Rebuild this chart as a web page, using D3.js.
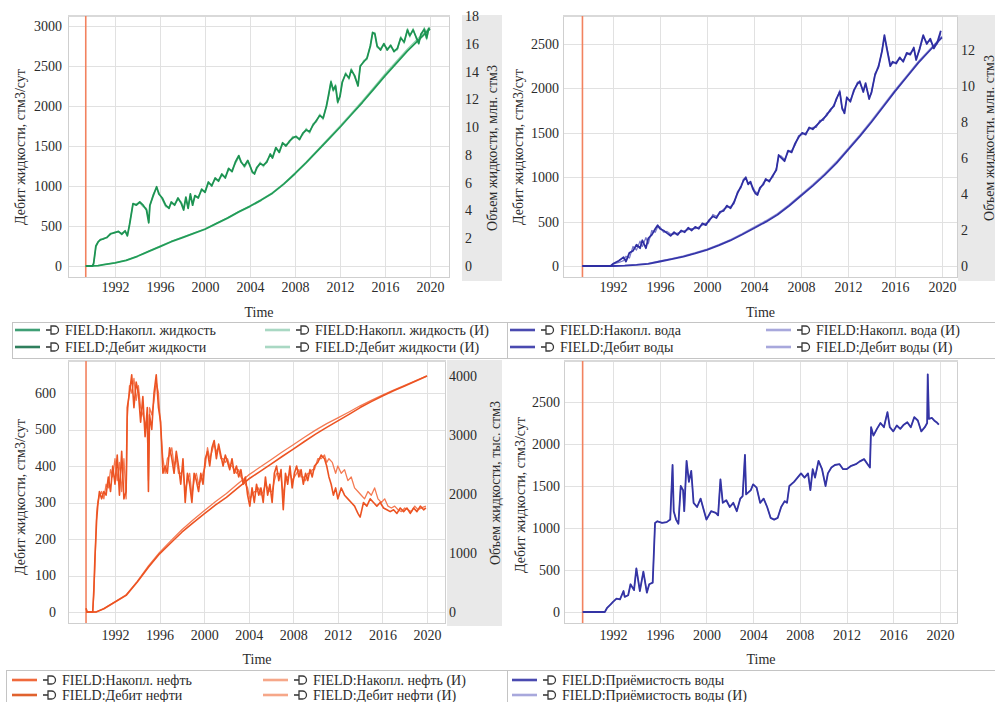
<!DOCTYPE html>
<html>
<head>
<meta charset="utf-8">
<script src="https://cdn.jsdelivr.net/npm/d3@7"></script>
<style>
  body { margin: 0; background: #fff; }
  svg { display: block; }
</style>
</head>
<body>
<svg id="fig" width="995" height="702"></svg>
<script>
// ---------------- Data: [year, value] ----------------
const yearTicks = [1992, 1996, 2000, 2004, 2008, 2012, 2016, 2020];
const startYear = 1989.4;

// Liquid rate, стм3/сут
const liquidRate = [
  [1989.4,0],[1990.0,0],[1990.1,30],[1990.3,250],[1990.5,300],[1990.7,330],[1991.0,340],[1991.3,360],[1991.6,400],
  [1992.0,420],[1992.3,430],[1992.6,400],[1992.9,440],[1993.1,380],[1993.3,520],[1993.6,780],[1993.9,760],
  [1994.2,800],[1994.5,760],[1994.8,700],[1995.0,540],[1995.1,760],[1995.4,880],[1995.7,990],[1995.9,900],
  [1996.2,850],[1996.5,760],[1996.8,720],[1997.0,800],[1997.3,760],[1997.6,850],[1997.9,780],[1998.1,700],
  [1998.3,860],[1998.5,720],[1998.7,900],[1998.9,760],[1999.1,880],[1999.4,850],[1999.7,960],[2000.0,920],
  [2000.3,1050],[2000.6,1000],[2000.9,1100],[2001.2,1060],[2001.5,1150],[2001.8,1100],[2002.1,1220],[2002.4,1180],
  [2002.7,1300],[2003.0,1380],[2003.2,1300],[2003.5,1250],[2003.8,1320],[2004.0,1250],[2004.2,1180],[2004.4,1150],
  [2004.6,1230],[2004.9,1280],[2005.2,1260],[2005.5,1300],[2005.8,1400],[2006.0,1350],[2006.3,1480],[2006.6,1420],
  [2006.9,1540],[2007.2,1500],[2007.5,1560],[2007.8,1600],[2008.1,1620],[2008.4,1580],[2008.7,1660],[2009.0,1700],
  [2009.3,1680],[2009.6,1760],[2009.9,1820],[2010.2,1880],[2010.5,1850],[2010.8,2000],[2011.0,2150],[2011.2,2300],
  [2011.4,2200],[2011.6,2250],[2011.8,2050],[2012.0,2120],[2012.2,2300],[2012.5,2400],[2012.8,2350],[2013.0,2450],
  [2013.3,2380],[2013.6,2250],[2013.8,2500],[2014.1,2550],[2014.4,2600],[2014.7,2750],[2014.9,2920],[2015.1,2900],
  [2015.3,2750],[2015.6,2700],[2015.9,2780],[2016.2,2700],[2016.5,2760],[2016.8,2680],[2017.1,2720],[2017.4,2850],
  [2017.7,2800],[2018.0,2950],[2018.2,2880],[2018.5,2950],[2018.8,2850],[2019.0,2780],[2019.2,2900],[2019.5,2960],
  [2019.7,2850],[2019.9,2980]
];
const liquidRateHist = [
  [1989.4,0],[1990.0,0],[1990.1,40],[1990.3,230],[1990.5,310],[1990.7,320],[1991.0,350],[1991.3,350],[1991.6,410],
  [1992.0,410],[1992.3,440],[1992.6,390],[1992.9,430],[1993.1,370],[1993.3,540],[1993.6,770],[1993.9,780],
  [1994.2,790],[1994.5,740],[1994.8,720],[1995.0,560],[1995.1,740],[1995.4,900],[1995.7,970],[1995.9,920],
  [1996.2,830],[1996.5,740],[1996.8,740],[1997.0,780],[1997.3,780],[1997.6,830],[1997.9,800],[1998.1,720],
  [1998.3,840],[1998.5,740],[1998.7,880],[1998.9,780],[1999.1,860],[1999.4,870],[1999.7,940],[2000.0,940],
  [2000.3,1030],[2000.6,1020],[2000.9,1080],[2001.2,1080],[2001.5,1130],[2001.8,1120],[2002.1,1200],[2002.4,1200],
  [2002.7,1280],[2003.0,1360],[2003.2,1320],[2003.5,1230],[2003.8,1300],[2004.0,1270],[2004.2,1160],[2004.4,1170],
  [2004.6,1210],[2004.9,1300],[2005.2,1240],[2005.5,1320],[2005.8,1380],[2006.0,1370],[2006.3,1460],[2006.6,1440],
  [2006.9,1520],[2007.2,1520],[2007.5,1540],[2007.8,1620],[2008.1,1600],[2008.4,1600],[2008.7,1640],[2009.0,1720],
  [2009.3,1660],[2009.6,1780],[2009.9,1800],[2010.2,1900],[2010.5,1830],[2010.8,2020],[2011.0,2130],[2011.2,2320],
  [2011.4,2180],[2011.6,2270],[2011.8,2030],[2012.0,2140],[2012.2,2280],[2012.5,2420],[2012.8,2330],[2013.0,2470],
  [2013.3,2360],[2013.6,2270],[2013.8,2480],[2014.1,2570],[2014.4,2580],[2014.7,2770],[2014.9,2900],[2015.1,2920],
  [2015.3,2730],[2015.6,2720],[2015.9,2760],[2016.2,2720],[2016.5,2740],[2016.8,2700],[2017.1,2700],[2017.4,2870],
  [2017.7,2780],[2018.0,2970],[2018.2,2860],[2018.5,2970],[2018.8,2830],[2019.0,2800],[2019.2,2880],[2019.5,2980],
  [2019.7,2830],[2019.9,2960]
];
// Cumulative liquid, млн. стм3
const liquidCum = [
  [1989.4,0],[1990.5,0.02],[1991,0.1],[1992,0.22],[1993,0.4],[1994,0.7],[1995,1.05],[1996,1.4],[1997,1.75],
  [1998,2.05],[1999,2.35],[2000,2.65],[2001,3.05],[2002,3.45],[2003,3.9],[2004,4.3],[2005,4.75],[2006,5.25],
  [2007,5.9],[2008,6.65],[2009,7.45],[2010,8.3],[2011,9.15],[2012,10.0],[2013,10.9],[2014,11.8],[2015,12.75],
  [2016,13.7],[2017,14.6],[2018,15.5],[2019,16.3],[2020,17.1]
];
const liquidCumHist = [
  [1989.4,0],[1990.5,0.02],[1991,0.1],[1992,0.23],[1993,0.42],[1994,0.72],[1995,1.07],[1996,1.43],[1997,1.78],
  [1998,2.08],[1999,2.38],[2000,2.68],[2001,3.08],[2002,3.48],[2003,3.93],[2004,4.34],[2005,4.8],[2006,5.3],
  [2007,5.95],[2008,6.7],[2009,7.5],[2010,8.37],[2011,9.23],[2012,10.1],[2013,11.0],[2014,11.92],[2015,12.88],
  [2016,13.84],[2017,14.75],[2018,15.65],[2019,16.45],[2020,17.2]
];

// Water rate, стм3/сут
const waterRate = [
  [1989.4,0],[1991.8,0],[1992.0,25],[1992.5,60],[1992.9,100],[1993.1,50],[1993.4,150],[1993.7,170],[1994.0,240],
  [1994.3,200],[1994.5,290],[1994.8,200],[1995.0,310],[1995.3,350],[1995.6,420],[1995.8,460],[1996.0,420],
  [1996.3,400],[1996.6,370],[1996.9,340],[1997.2,380],[1997.5,350],[1997.8,400],[1998.1,380],[1998.4,430],
  [1998.7,400],[1999.0,440],[1999.3,420],[1999.6,480],[1999.9,460],[2000.2,520],[2000.5,560],[2000.8,540],
  [2001.1,610],[2001.4,620],[2001.7,680],[2002.0,650],[2002.3,720],[2002.6,820],[2002.9,900],[2003.1,960],
  [2003.3,1000],[2003.5,920],[2003.7,950],[2003.9,870],[2004.1,820],[2004.3,800],[2004.5,880],[2004.8,920],
  [2005.0,980],[2005.3,950],[2005.6,1020],[2005.9,1080],[2006.1,1250],[2006.3,1220],[2006.6,1180],[2006.9,1300],
  [2007.2,1280],[2007.5,1380],[2007.8,1450],[2008.1,1500],[2008.4,1480],[2008.7,1560],[2009.0,1540],[2009.3,1580],
  [2009.6,1620],[2009.9,1660],[2010.2,1700],[2010.5,1760],[2010.8,1800],[2011.0,1880],[2011.3,1960],[2011.5,1780],
  [2011.7,1720],[2011.9,1900],[2012.2,1850],[2012.5,1980],[2012.8,2050],[2013.0,2080],[2013.3,1960],[2013.5,2060],
  [2013.8,1880],[2014.0,1960],[2014.3,2150],[2014.6,2250],[2014.9,2420],[2015.1,2600],[2015.3,2450],[2015.6,2250],
  [2015.8,2300],[2016.1,2280],[2016.4,2350],[2016.7,2300],[2017.0,2400],[2017.3,2380],[2017.6,2460],[2017.8,2320],
  [2018.1,2450],[2018.4,2600],[2018.7,2500],[2019.0,2560],[2019.3,2450],[2019.6,2520],[2019.9,2650]
];
const waterRateHist = [
  [1989.4,0],[1991.8,0],[1992.0,20],[1992.5,40],[1992.9,60],[1993.1,110],[1993.4,90],[1993.7,220],[1994.0,180],
  [1994.3,280],[1994.5,220],[1994.8,320],[1995.0,250],[1995.3,400],[1995.6,380],[1995.8,440],[1996.0,440],
  [1996.3,380],[1996.6,390],[1996.9,360],[1997.2,360],[1997.5,370],[1997.8,380],[1998.1,400],[1998.4,410],
  [1998.7,420],[1999.0,420],[1999.3,440],[1999.6,460],[1999.9,480],[2000.2,500],[2000.5,580],[2000.8,560],
  [2001.1,590],[2001.4,640],[2001.7,660],[2002.0,670],[2002.3,700],[2002.6,840],[2002.9,880],[2003.1,980],
  [2003.3,980],[2003.5,940],[2003.7,930],[2003.9,890],[2004.1,840],[2004.3,820],[2004.5,860],[2004.8,940],
  [2005.0,960],[2005.3,970],[2005.6,1000],[2005.9,1100],[2006.1,1230],[2006.3,1240],[2006.6,1200],[2006.9,1280],
  [2007.2,1300],[2007.5,1360],[2007.8,1470],[2008.1,1480],[2008.4,1500],[2008.7,1540],[2009.0,1560],[2009.3,1560],
  [2009.6,1640],[2009.9,1640],[2010.2,1720],[2010.5,1740],[2010.8,1820],[2011.0,1860],[2011.3,1980],[2011.5,1760],
  [2011.7,1740],[2011.9,1880],[2012.2,1870],[2012.5,1960],[2012.8,2070],[2013.0,2060],[2013.3,1980],[2013.5,2040],
  [2013.8,1900],[2014.0,1940],[2014.3,2170],[2014.6,2230],[2014.9,2440],[2015.1,2580],[2015.3,2470],[2015.6,2270],
  [2015.8,2280],[2016.1,2300],[2016.4,2330],[2016.7,2320],[2017.0,2380],[2017.3,2400],[2017.6,2440],[2017.8,2340],
  [2018.1,2430],[2018.4,2580],[2018.7,2520],[2019.0,2540],[2019.3,2470],[2019.6,2500],[2019.9,2620]
];
// Cumulative water, млн. стм3
const waterCum = [
  [1989.4,0],[1992,0],[1993,0.02],[1994,0.06],[1995,0.12],[1996,0.25],[1997,0.38],[1998,0.52],[1999,0.7],
  [2000,0.9],[2001,1.15],[2002,1.42],[2003,1.75],[2004,2.1],[2005,2.45],[2006,2.85],[2007,3.35],[2008,3.9],
  [2009,4.45],[2010,5.05],[2011,5.7],[2012,6.45],[2013,7.2],[2014,8.0],[2015,8.85],[2016,9.7],[2017,10.5],
  [2018,11.3],[2019,12.0],[2020,12.7]
];
const waterCumHist = [
  [1989.4,0],[1992,0],[1993,0.03],[1994,0.08],[1995,0.15],[1996,0.28],[1997,0.41],[1998,0.56],[1999,0.74],
  [2000,0.94],[2001,1.19],[2002,1.47],[2003,1.8],[2004,2.16],[2005,2.52],[2006,2.92],[2007,3.42],[2008,3.97],
  [2009,4.53],[2010,5.13],[2011,5.79],[2012,6.54],[2013,7.29],[2014,8.09],[2015,8.94],[2016,9.79],[2017,10.58],
  [2018,11.38],[2019,12.07],[2020,12.77]
];

// Oil rate, стм3/сут
const oilRate = [
  [1989.4,10],[1989.5,0],[1990.0,0],[1990.1,60],[1990.2,150],[1990.35,250],[1990.45,290],[1990.6,330],[1990.8,310],
  [1991.0,330],[1991.2,320],[1991.4,370],[1991.6,330],[1991.8,400],[1992.0,350],[1992.2,430],[1992.4,320],
  [1992.6,440],[1992.8,310],[1993.0,330],[1993.1,560],[1993.3,600],[1993.5,650],[1993.7,560],[1993.9,630],
  [1994.1,600],[1994.3,520],[1994.5,590],[1994.7,480],[1994.9,560],[1995.0,330],[1995.1,540],[1995.3,500],
  [1995.5,600],[1995.7,650],[1995.9,560],[1996.1,520],[1996.3,380],[1996.5,400],[1996.7,380],[1996.9,450],
  [1997.1,420],[1997.3,380],[1997.5,440],[1997.7,400],[1997.9,350],[1998.1,420],[1998.3,300],[1998.5,380],
  [1998.7,350],[1998.9,300],[1999.1,380],[1999.3,360],[1999.5,330],[1999.7,380],[1999.9,350],[2000.1,420],
  [2000.3,440],[2000.5,400],[2000.7,450],[2000.9,470],[2001.1,420],[2001.3,460],[2001.5,430],[2001.7,400],
  [2001.9,430],[2002.1,410],[2002.3,390],[2002.5,420],[2002.7,380],[2002.9,400],[2003.1,370],[2003.3,390],
  [2003.5,350],[2003.7,370],[2003.9,320],[2004.1,290],[2004.3,340],[2004.5,300],[2004.7,350],[2004.9,320],
  [2005.1,340],[2005.3,300],[2005.5,370],[2005.7,320],[2005.9,350],[2006.1,300],[2006.3,380],[2006.5,400],
  [2006.7,360],[2006.9,390],[2007.1,280],[2007.3,380],[2007.5,350],[2007.7,400],[2007.9,340],[2008.1,380],
  [2008.3,400],[2008.5,370],[2008.7,390],[2008.9,350],[2009.1,380],[2009.3,360],[2009.5,390],[2009.7,370],
  [2009.9,400],[2010.2,410],[2010.5,430],[2010.8,420],[2011.0,400],[2011.2,370],[2011.4,350],[2011.6,320],
  [2011.8,340],[2012.0,310],[2012.3,340],[2012.6,320],[2012.9,310],[2013.2,300],[2013.5,290],[2013.8,270],
  [2014.0,260],[2014.3,300],[2014.6,290],[2014.9,310],[2015.2,300],[2015.5,290],[2015.8,300],[2016.1,285],
  [2016.4,280],[2016.7,275],[2017.0,280],[2017.3,270],[2017.6,285],[2017.9,275],[2018.2,285],[2018.5,270],
  [2018.8,285],[2019.1,275],[2019.4,290],[2019.7,280],[2019.9,285]
];
const oilRateHist = [
  [1989.4,10],[1989.5,0],[1990.0,0],[1990.1,50],[1990.2,130],[1990.35,270],[1990.45,300],[1990.6,320],[1990.8,330],
  [1991.0,310],[1991.2,350],[1991.4,340],[1991.6,390],[1991.8,370],[1992.0,420],[1992.2,360],[1992.4,410],
  [1992.6,330],[1992.8,420],[1993.0,310],[1993.1,530],[1993.3,620],[1993.5,600],[1993.7,640],[1993.9,580],
  [1994.1,620],[1994.3,560],[1994.5,540],[1994.7,520],[1994.9,500],[1995.0,360],[1995.1,560],[1995.3,540],
  [1995.5,580],[1995.7,630],[1995.9,600],[1996.1,500],[1996.3,420],[1996.5,380],[1996.7,420],[1996.9,430],
  [1997.1,450],[1997.3,400],[1997.5,420],[1997.7,380],[1997.9,380],[1998.1,390],[1998.3,330],[1998.5,360],
  [1998.7,380],[1998.9,320],[1999.1,360],[1999.3,380],[1999.5,350],[1999.7,360],[1999.9,380],[2000.1,400],
  [2000.3,450],[2000.5,420],[2000.7,440],[2000.9,460],[2001.1,440],[2001.3,450],[2001.5,420],[2001.7,420],
  [2001.9,410],[2002.1,420],[2002.3,400],[2002.5,400],[2002.7,390],[2002.9,380],[2003.1,390],[2003.3,370],
  [2003.5,360],[2003.7,350],[2003.9,340],[2004.1,310],[2004.3,320],[2004.5,330],[2004.7,330],[2004.9,340],
  [2005.1,320],[2005.3,330],[2005.5,350],[2005.7,340],[2005.9,330],[2006.1,330],[2006.3,360],[2006.5,380],
  [2006.7,380],[2006.9,370],[2007.1,320],[2007.3,360],[2007.5,370],[2007.7,380],[2007.9,360],[2008.1,370],
  [2008.3,380],[2008.5,390],[2008.7,370],[2008.9,370],[2009.1,360],[2009.3,380],[2009.5,380],[2009.7,390],
  [2009.9,390],[2010.2,420],[2010.5,420],[2010.8,430],[2011.0,410],[2011.2,420],[2011.5,410],[2011.8,380],
  [2012.0,400],[2012.3,380],[2012.6,390],[2012.9,360],[2013.2,370],[2013.5,340],[2013.8,330],[2014.1,320],
  [2014.4,310],[2014.7,330],[2015.0,320],[2015.3,340],[2015.6,310],[2015.9,300],[2016.2,310],[2016.5,290],
  [2016.8,285],[2017.1,290],[2017.4,280],[2017.7,275],[2018.0,285],[2018.3,280],[2018.6,275],[2018.9,290],
  [2019.2,280],[2019.5,285],[2019.9,290]
];
// Cumulative oil, тыс. стм3
const oilCum = [
  [1989.4,0],[1990.3,0],[1991,56],[1992,169],[1993,282],[1994,507],[1995,760],[1996,986],[1997,1170],
  [1998,1352],[1999,1510],[2000,1662],[2001,1810],[2002,1944],[2003,2100],[2004,2254],[2005,2380],[2006,2507],
  [2007,2635],[2008,2760],[2009,2890],[2010,3014],[2011,3130],[2012,3239],[2013,3350],[2014,3465],[2015,3565],
  [2016,3662],[2017,3750],[2018,3831],[2019,3915],[2020,4000]
];
const oilCumHist = [
  [1989.4,0],[1990.3,0],[1991,58],[1992,172],[1993,290],[1994,520],[1995,780],[1996,1010],[1997,1205],
  [1998,1395],[1999,1560],[2000,1715],[2001,1868],[2002,2008],[2003,2168],[2004,2324],[2005,2452],[2006,2582],
  [2007,2712],[2008,2835],[2009,2962],[2010,3082],[2011,3192],[2012,3290],[2013,3390],[2014,3495],[2015,3588],
  [2016,3678],[2017,3762],[2018,3840],[2019,3920],[2020,4003]
];

// Water injection, стм3/сут
const injectionRate = [
  [1989.4,0],[1991.3,0],[1991.5,50],[1991.8,90],[1992.0,120],[1992.3,160],[1992.6,150],[1992.9,250],[1993.0,180],
  [1993.3,200],[1993.5,330],[1993.8,260],[1994.0,520],[1994.3,250],[1994.6,480],[1994.9,230],[1995.1,330],
  [1995.4,350],[1995.6,1060],[1995.8,1080],[1996.2,1060],[1996.6,1070],[1996.9,1100],[1997.1,1750],[1997.2,1200],
  [1997.4,1100],[1997.6,1050],[1997.8,1500],[1998.0,1450],[1998.1,1200],[1998.3,1800],[1998.5,1550],[1998.7,1680],
  [1998.9,1300],[1999.2,1250],[1999.5,1350],[1999.8,1200],[2000.0,1100],[2000.4,1200],[2000.8,1180],[2001.0,1150],
  [2001.2,1580],[2001.4,1300],[2001.7,1330],[2002.0,1250],[2002.3,1300],[2002.6,1200],[2002.9,1350],[2003.1,1380],
  [2003.3,1870],[2003.4,1400],[2003.8,1450],[2004.0,1520],[2004.3,1480],[2004.6,1300],[2004.9,1350],[2005.2,1250],
  [2005.5,1120],[2005.8,1100],[2006.1,1120],[2006.4,1250],[2006.7,1320],[2006.9,1300],[2007.1,1500],[2007.5,1550],
  [2007.8,1600],[2008.1,1650],[2008.4,1600],[2008.7,1650],[2008.9,1450],[2009.1,1700],[2009.3,1600],[2009.6,1800],
  [2009.9,1700],[2010.2,1500],[2010.4,1650],[2010.7,1720],[2011.0,1750],[2011.4,1760],[2011.7,1700],[2012.0,1700],
  [2012.4,1740],[2012.8,1760],[2013.1,1790],[2013.5,1820],[2013.8,1760],[2014.0,1720],[2014.1,2200],[2014.3,2100],
  [2014.6,2180],[2014.9,2250],[2015.2,2200],[2015.5,2380],[2015.7,2200],[2016.0,2150],[2016.3,2220],[2016.6,2180],
  [2016.9,2230],[2017.2,2260],[2017.5,2200],[2017.8,2320],[2018.1,2280],[2018.4,2150],[2018.7,2200],[2018.9,2250],
  [2018.95,2830],[2019.05,2300],[2019.3,2310],[2019.5,2280],[2019.7,2260],[2019.9,2230]
];
const injectionRateHist = injectionRate;

// ---------------- Panels ----------------
const panels = [
  {
    frame: [68, 15, 450, 278], x1992: 115, x2020: 430, yZero: 266, xPad: 4, timeY: 317,
    left: { top: 3000, yTop: 26, ticks: [0, 500, 1000, 1500, 2000, 2500, 3000], pad: 6,
            label: "Дебит жидкости, стм3/сут", lx: 20, ly: 147 },
    right: { top: 16, yTop: 44, ticks: [0, 2, 4, 6, 8, 10, 12, 14, 16, 18], pad: 15, band: [462, 15, 502, 281],
             label: "Объем жидкости, млн. стм3", lx: 492, ly: 148 },
    series: [
      { data: liquidCumHist, axis: "right", color: "#8fd2ab", width: 1.2 },
      { data: liquidRateHist, axis: "left", color: "#8fd2ab", width: 1.2 },
      { data: liquidCum, axis: "right", color: "#229c58", width: 1.8 },
      { data: liquidRate, axis: "left", color: "#1d9352", width: 1.8 }
    ],
    legend: { box: [12, 322, 520, 358], rows: [330, 347], cols: [15, 265],
      items: [
        { col: 0, row: 0, color: "#3f9f75", text: "FIELD:Накопл. жидкость" },
        { col: 0, row: 1, color: "#2f7f5d", text: "FIELD:Дебит жидкости" },
        { col: 1, row: 0, color: "#a9d8c3", text: "FIELD:Накопл. жидкость (И)" },
        { col: 1, row: 1, color: "#a9d8c3", text: "FIELD:Дебит жидкости (И)" }
      ] }
  },
  {
    frame: [563, 15, 958, 278], x1992: 613, x2020: 942, yZero: 266, xPad: 4, timeY: 317,
    left: { top: 2500, yTop: 44, ticks: [0, 500, 1000, 1500, 2000, 2500], pad: 4,
            label: "Дебит жидкости, стм3/сут", lx: 518, ly: 147 },
    right: { top: 12, yTop: 50, ticks: [0, 2, 4, 6, 8, 10, 12], pad: 3, band: [958, 15, 995, 281],
             label: "Объем жидкости, млн. стм3", lx: 989, ly: 138 },
    series: [
      { data: waterCumHist, axis: "right", color: "#9a9ad8", width: 1.2 },
      { data: waterRateHist, axis: "left", color: "#7777c8", width: 1.2 },
      { data: waterCum, axis: "right", color: "#3636aa", width: 1.8 },
      { data: waterRate, axis: "left", color: "#2e2ea2", width: 1.8 }
    ],
    legend: { box: [507, 322, 1000, 358], rows: [330, 347], cols: [510, 766],
      items: [
        { col: 0, row: 0, color: "#4a4ab0", text: "FIELD:Накопл. вода" },
        { col: 0, row: 1, color: "#4a4ab0", text: "FIELD:Дебит воды" },
        { col: 1, row: 0, color: "#a8a8dc", text: "FIELD:Накопл. вода (И)" },
        { col: 1, row: 1, color: "#a8a8dc", text: "FIELD:Дебит воды (И)" }
      ] }
  },
  {
    frame: [68, 360, 446, 624], x1992: 115, x2020: 427, yZero: 612, xPad: 6, timeY: 664,
    left: { top: 600, yTop: 393, ticks: [0, 100, 200, 300, 400, 500, 600], pad: 12,
            label: "Дебит жидкости, стм3/сут", lx: 20, ly: 497 },
    right: { top: 4000, yTop: 376, ticks: [0, 1000, 2000, 3000, 4000], pad: 3, band: [447, 360, 502, 626],
             label: "Объем жидкости, тыс. стм3", lx: 495, ly: 483 },
    series: [
      { data: oilCumHist, axis: "right", color: "#f47a52", width: 1.3 },
      { data: oilRateHist, axis: "left", color: "#f47a52", width: 1.3 },
      { data: oilCum, axis: "right", color: "#ec5322", width: 1.6 },
      { data: oilRate, axis: "left", color: "#ec5322", width: 1.6 }
    ],
    legend: { box: [6, 670, 520, 710], rows: [680, 695], cols: [12, 263],
      items: [
        { col: 0, row: 0, color: "#f06a3c", text: "FIELD:Накопл. нефть" },
        { col: 0, row: 1, color: "#e0622e", text: "FIELD:Дебит нефти" },
        { col: 1, row: 0, color: "#f6a789", text: "FIELD:Накопл. нефть (И)" },
        { col: 1, row: 1, color: "#f6a789", text: "FIELD:Дебит нефти (И)" }
      ] }
  },
  {
    frame: [564, 360, 958, 624], x1992: 613, x2020: 940, yZero: 612, xPad: 6, timeY: 664,
    left: { top: 2500, yTop: 402, ticks: [0, 500, 1000, 1500, 2000, 2500], pad: 4,
            label: "Дебит жидкости, стм3/сут", lx: 520, ly: 495 },
    right: null,
    series: [
      { data: injectionRateHist, axis: "left", color: "#9a9ad8", width: 1.2 },
      { data: injectionRate, axis: "left", color: "#3434a4", width: 1.8 }
    ],
    legend: { box: [507, 670, 1000, 710], rows: [680, 695], cols: [512],
      items: [
        { col: 0, row: 0, color: "#4a4ab0", text: "FIELD:Приёмистость воды" },
        { col: 0, row: 1, color: "#a8a8dc", text: "FIELD:Приёмистость воды (И)" }
      ] }
  }
];

// ---------------- Drawing ----------------
const svg = d3.select("#fig");
const FONT = 14;
const TEXT = "#2b2b2b";
const SERIF = 'Tinos, "Times New Roman"';
const fmt = d3.format("d");

// serif face and text colour, set inline (important) on every text element
function txt(sel) {
  sel.each(function () {
    this.style.setProperty("font-family", SERIF, "important");
    this.style.setProperty("font-size", FONT + "px", "important");
  });
  return sel.attr("fill", TEXT);
}

function styleAxis(g) {
  g.attr("font-family", null).attr("font-size", null);
  g.select(".domain").remove();
  txt(g.selectAll("text"));
}

panels.forEach((p, i) => {
  const [fx0, fy0, fx1, fy1] = p.frame;
  const g = svg.append("g");

  const x = d3.scaleLinear().domain([1992, 2020]).range([p.x1992, p.x2020]);
  const yL = d3.scaleLinear().domain([0, p.left.top]).range([p.yZero, p.left.yTop]);
  const yR = p.right ? d3.scaleLinear().domain([0, p.right.top]).range([p.yZero, p.right.yTop]) : null;

  // grey band behind the secondary axis
  if (p.right) {
    const [bx0, by0, bx1, by1] = p.right.band;
    g.append("rect").attr("x", bx0).attr("y", by0).attr("width", bx1 - bx0).attr("height", by1 - by0)
      .attr("fill", "#e9e9e9");
  }

  // plot background
  g.append("rect").attr("x", fx0).attr("y", fy0).attr("width", fx1 - fx0).attr("height", fy1 - fy0)
    .attr("fill", "#fff");

  // grid
  const grid = g.append("g").attr("stroke", "#e1e1e1").attr("stroke-width", 1);
  grid.selectAll("line.v").data(yearTicks).join("line")
    .attr("x1", d => Math.round(x(d)) + 0.5).attr("x2", d => Math.round(x(d)) + 0.5)
    .attr("y1", fy0).attr("y2", fy1);
  grid.selectAll("line.h").data(p.left.ticks).join("line")
    .attr("y1", d => Math.round(yL(d)) + 0.5).attr("y2", d => Math.round(yL(d)) + 0.5)
    .attr("x1", fx0).attr("x2", fx1);

  // frame
  g.append("rect").attr("x", fx0 + 0.5).attr("y", fy0 + 0.5).attr("width", fx1 - fx0 - 1).attr("height", fy1 - fy0 - 1)
    .attr("fill", "none").attr("stroke", "#cfcfcf");
  g.append("line").attr("x1", fx0).attr("x2", fx1).attr("y1", fy0 + 1).attr("y2", fy0 + 1)
    .attr("stroke", "#d9d9d9").attr("stroke-width", 2);

  // clip for data lines
  const clipId = "clip" + i;
  svg.append("clipPath").attr("id", clipId).append("rect")
    .attr("x", fx0 + 1).attr("y", fy0 + 1).attr("width", fx1 - fx0 - 2).attr("height", fy1 - fy0 - 2);
  const plot = g.append("g").attr("clip-path", `url(#${clipId})`);

  // start-of-history marker
  plot.append("line").attr("x1", x(startYear)).attr("x2", x(startYear)).attr("y1", fy0).attr("y2", fy1)
    .attr("stroke", "#f2825f").attr("stroke-width", 1.6);

  p.series.forEach(s => {
    const yS = s.axis === "right" ? yR : yL;
    const line = d3.line().x(d => x(d[0])).y(d => yS(d[1]));
    plot.append("path").datum(s.data).attr("d", line)
      .attr("fill", "none").attr("stroke", s.color).attr("stroke-width", s.width)
      .attr("stroke-linejoin", "round");
  });

  // axes
  g.append("g").attr("transform", `translate(0,${fy1})`)
    .call(d3.axisBottom(x).tickValues(yearTicks).tickSize(0).tickPadding(p.xPad).tickFormat(fmt))
    .call(styleAxis);
  g.append("g").attr("transform", `translate(${fx0},0)`)
    .call(d3.axisLeft(yL).tickValues(p.left.ticks).tickSize(0).tickPadding(p.left.pad).tickFormat(fmt))
    .call(styleAxis);
  if (p.right) {
    g.append("g").attr("transform", `translate(${fx1},0)`)
      .call(d3.axisRight(yR).tickValues(p.right.ticks).tickSize(0).tickPadding(p.right.pad).tickFormat(fmt))
      .call(styleAxis);
    txt(g.append("text").attr("transform", `translate(${p.right.lx},${p.right.ly}) rotate(-90)`)
      .attr("text-anchor", "middle").attr("dominant-baseline", "central"))
      .text(p.right.label);
  }
  txt(g.append("text").attr("transform", `translate(${p.left.lx},${p.left.ly}) rotate(-90)`)
    .attr("text-anchor", "middle").attr("dominant-baseline", "central"))
    .text(p.left.label);

  txt(g.append("text").attr("x", (fx0 + fx1) / 2).attr("y", p.timeY).attr("text-anchor", "middle"))
    .text("Time");

  // legend
  const L = p.legend;
  const [lx0, ly0, lx1, ly1] = L.box;
  g.append("rect").attr("x", lx0 + 0.5).attr("y", ly0 + 0.5).attr("width", lx1 - lx0).attr("height", ly1 - ly0)
    .attr("fill", "#fff").attr("stroke", "#c4c4c4");
  L.items.forEach(it => {
    const cx = L.cols[it.col], cy = L.rows[it.row];
    g.append("line").attr("x1", cx).attr("x2", cx + 25).attr("y1", cy).attr("y2", cy)
      .attr("stroke", it.color).attr("stroke-width", 2.6);
    const ix = cx + 31;
    g.append("line").attr("x1", ix).attr("x2", ix + 5).attr("y1", cy).attr("y2", cy)
      .attr("stroke", "#3a3a3a").attr("stroke-width", 1.6);
    g.append("path")
      .attr("d", `M${ix + 5},${cy - 4} h3.5 a4,4 0 0 1 0,8 h-3.5 z`)
      .attr("fill", "none").attr("stroke", "#3a3a3a").attr("stroke-width", 1.3);
    txt(g.append("text").attr("x", cx + 50).attr("y", cy).attr("dominant-baseline", "central"))
      .text(it.text);
  });
});
</script>
</body>
</html>
